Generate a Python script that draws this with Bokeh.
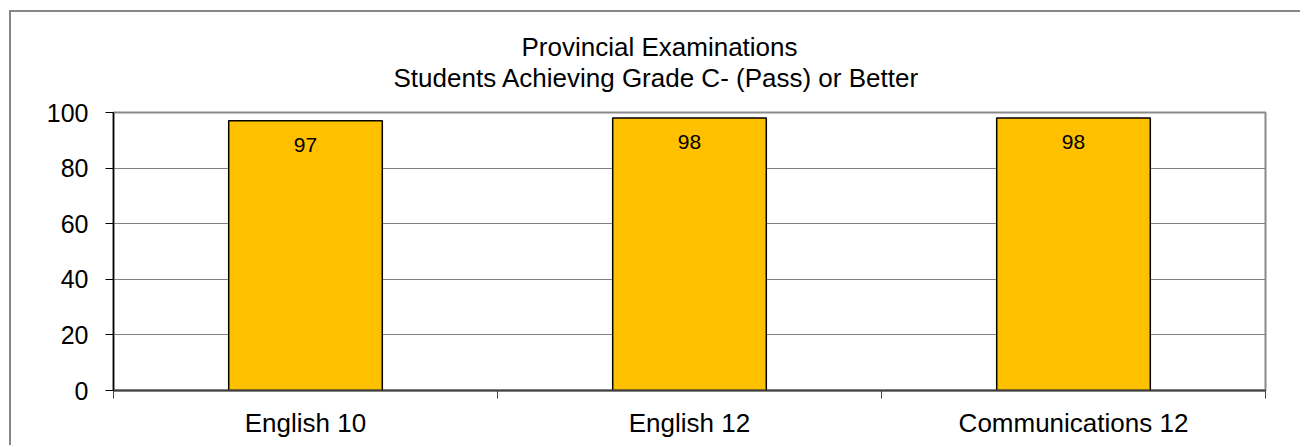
from bokeh.plotting import figure
from bokeh.models import ColumnDataSource, FixedTicker, Range1d, Title
from bokeh.core.properties import value
from bokeh.embed import file_html
from bokeh.resources import INLINE

categories = ["English 10", "English 12", "Communications 12"]
values = [97, 98, 98]
y_ticks = [0, 20, 40, 60, 80, 100]
title_lines = ["Provincial Examinations", "Students Achieving Grade C- (Pass) or Better"]

FONT = "Liberation Sans"
xs = [i + 0.5 for i in range(len(categories))]
src = ColumnDataSource(dict(x=xs, top=values, label=[str(v) for v in values]))

p = figure(width=1300, height=445, output_backend="svg", toolbar_location=None,
           title=None,
           x_range=Range1d(0, len(categories)), y_range=Range1d(0, 100),
           min_border_left=113, min_border_right=35, min_border_top=112, min_border_bottom=55)
p.border_fill_color = None
p.styles = {
    "background": ("linear-gradient(#868686,#868686) 9px 10px / 1300px 2px no-repeat, "
                   "linear-gradient(#868686,#868686) 9px 10px / 2px 440px no-repeat"),
}

t2 = Title(text=title_lines[1], align="left", offset=280, standoff=39,
           text_font=FONT, text_font_style="normal", text_font_size="26px", text_color="black")
t1 = Title(text=title_lines[0], align="left", offset=408, standoff=-40,
           text_font=FONT, text_font_style="normal", text_font_size="26px", text_color="black")
p.add_layout(t2, "above")
p.add_layout(t1, "above")

p.vbar(x="x", top="top", width=0.4, bottom=0, source=src,
       fill_color="#FFC000", line_color="black", line_width=1.5)
p.text(x="x", y="top", text="label", source=src, text_align="center",
       text_baseline="middle", y_offset=24, text_font=value(FONT),
       text_font_size="21px", text_color="black")

# y axis
p.yaxis.ticker = FixedTicker(ticks=y_ticks)
p.yaxis.major_tick_out = 8
p.yaxis.major_tick_in = 0
p.yaxis.minor_tick_out = 0
p.yaxis.minor_tick_in = 0
p.yaxis.major_label_standoff = 17
p.yaxis.major_label_text_font = FONT
p.yaxis.major_label_text_font_size = "25px"
p.yaxis.major_label_text_color = "black"
p.yaxis.axis_line_color = "black"
p.yaxis.axis_line_width = 1.5
p.yaxis.major_tick_line_color = "black"

# x axis
p.xaxis.ticker = FixedTicker(ticks=xs, minor_ticks=list(range(len(categories) + 1)))
p.xaxis.major_label_overrides = {x: c for x, c in zip(xs, categories)}
p.xaxis.major_tick_out = 0
p.xaxis.major_tick_in = 0
p.xaxis.minor_tick_out = 8
p.xaxis.minor_tick_in = 0
p.xaxis.minor_tick_line_color = "#404040"
p.xaxis.major_label_standoff = 9
p.xaxis.major_label_text_font = FONT
p.xaxis.major_label_text_font_size = "26px"
p.xaxis.major_label_text_color = "black"
p.xaxis.axis_line_color = "#404040"
p.xaxis.axis_line_width = 2

p.xgrid.grid_line_color = None
p.ygrid.grid_line_color = "#808080"
p.ygrid.grid_line_width = 1.2

p.outline_line_color = "#8a8a8a"
p.outline_line_width = 2

open("out.html", "w").write(file_html(p, INLINE))
